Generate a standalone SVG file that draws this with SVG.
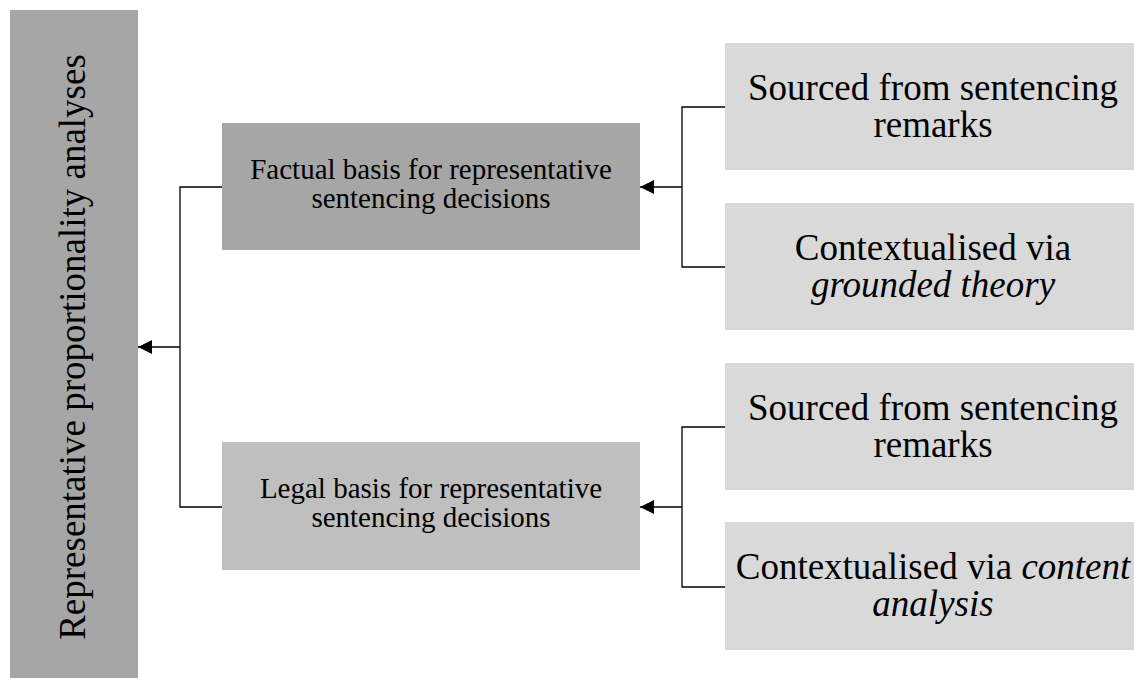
<svg xmlns="http://www.w3.org/2000/svg" width="1134" height="678" viewBox="0 0 1134 678">
<style>
.t{font-family:"Liberation Serif","Times New Roman",serif;fill:#000;text-anchor:middle}
.s{font-size:29px}
.b{font-size:37px}
.c{fill:none;stroke:#000;stroke-width:1.3}
</style>
<defs>
<marker id="ah" markerUnits="userSpaceOnUse" markerWidth="16" markerHeight="16" refX="14" refY="7" orient="auto">
<path d="M0,0 L14,7 L0,14 Z" fill="#000"/>
</marker>
</defs>
<rect width="1134" height="678" fill="#fff"/>
<g id="root">
<rect x="10" y="10" width="128" height="668" fill="#a6a6a6"/>
<text class="t b" transform="translate(85,347) rotate(-90)">Representative proportionality analyses</text>
</g>
<g id="factual">
<rect x="222" y="123" width="418" height="127" fill="#a6a6a6"/>
<text class="t s" x="431" y="179">Factual basis for representative<tspan x="431" y="208">sentencing decisions</tspan></text>
</g>
<g id="legal">
<rect x="222" y="442" width="418" height="128" fill="#bfbfbf"/>
<text class="t s" x="431" y="498">Legal basis for representative<tspan x="431" y="527">sentencing decisions</tspan></text>
</g>
<g id="f-sourced">
<rect x="725" y="43" width="412" height="127" fill="#d9d9d9"/>
<text class="t b" x="933" y="100">Sourced from sentencing<tspan x="933" y="137">remarks</tspan></text>
</g>
<g id="f-context">
<rect x="725" y="203" width="412" height="127" fill="#d9d9d9"/>
<text class="t b" x="933" y="260">Contextualised via<tspan x="933" y="297" font-style="italic">grounded theory</tspan></text>
</g>
<g id="l-sourced">
<rect x="725" y="363" width="412" height="127" fill="#d9d9d9"/>
<text class="t b" x="933" y="420">Sourced from sentencing<tspan x="933" y="457">remarks</tspan></text>
</g>
<g id="l-context">
<rect x="725" y="522" width="412" height="128" fill="#d9d9d9"/>
<text class="t b" x="933" y="579">Contextualised via <tspan font-style="italic">content</tspan><tspan x="933" y="616" font-style="italic">analysis</tspan></text>
</g>
<g id="connectors">
<path class="c" d="M222,187 H180 V507 H222"/>
<path class="c" d="M180,347 H138" marker-end="url(#ah)"/>
<path class="c" d="M725,107 H682 V267 H725"/>
<path class="c" d="M682,187 H640" marker-end="url(#ah)"/>
<path class="c" d="M725,427 H682 V587 H725"/>
<path class="c" d="M682,507 H640" marker-end="url(#ah)"/>
</g>
</svg>
